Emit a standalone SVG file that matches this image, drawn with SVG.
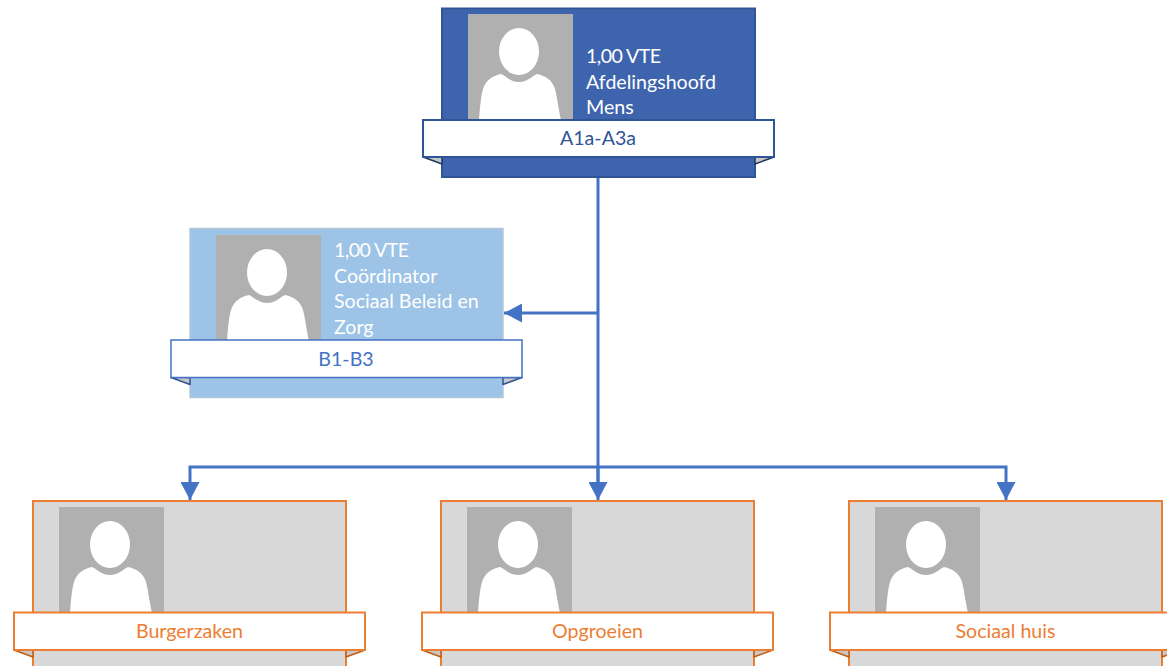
<svg xmlns="http://www.w3.org/2000/svg" xmlns:xlink="http://www.w3.org/1999/xlink" width="1167" height="666" viewBox="0 0 1167 666">
<style>
text{font-family:"Lato","Liberation Sans",sans-serif;font-size:19.6px}
.info{fill:#fff}
.band{text-anchor:middle}
.conn{fill:none;stroke:#4472c4;stroke-width:3}
.navy .card{fill:#3e64ad;stroke:#2f5597;stroke-width:2}
.navy .rib{fill:#fff;stroke:#2f5597;stroke-width:2}
.navy .tail{stroke:#1f3864}
.navy .band{fill:#2f5597}
.sky .card{fill:#9dc3e6;stroke:#b4c7dc;stroke-width:1.5}
.sky .rib{fill:#fff;stroke:#4472c4;stroke-width:1.5}
.sky .tail{stroke:#2f5597}
.sky .band{fill:#4472c4}
.org .card{fill:#d8d8d8;stroke:#ed7d31;stroke-width:2}
.org .rib{fill:#fff;stroke:#ed7d31;stroke-width:2}
.org .tail{stroke:#c55a11}
.org .band{fill:#ed7d31}
.tail{fill:#c8c8c8;stroke-width:1.5;stroke-linejoin:round}
</style>
<defs>
<marker id="arr" markerUnits="userSpaceOnUse" markerWidth="19" markerHeight="19" refX="18" refY="9.5" orient="auto"><path d="M0,0L18,9.5L0,19Z" fill="#4472c4"/></marker>
<g id="photo">
<rect x="0" y="0" width="105" height="106" fill="#b0b0b0"/>
<ellipse cx="51" cy="37.500" rx="20" ry="23.500" fill="#fff"/>
<path d="M11,106C12,92 13,82 15,75C18,66 24,62 33,60C38,62 42,68 51,68C60,68 64,62 69,60C78,62 84,66 87,75C89,82 90,92 93,106Z" fill="#fff"/>
</g>
</defs>
<g id="connectors">
<path class="conn" d="M598,177V485"/>
<path class="conn" d="M598,313H504" marker-end="url(#arr)"/>
<path class="conn" d="M598,467H190V500" marker-end="url(#arr)"/>
<path class="conn" d="M598,467H1006V500" marker-end="url(#arr)"/>
<path class="conn" d="M598,467V500" marker-end="url(#arr)"/>
</g>
<g id="node-afdelingshoofd" class="navy">
<rect class="card" x="442" y="8.500" width="313" height="168.500"/>
<use xlink:href="#photo" href="#photo" x="468" y="14"/>
<text class="info" x="586" y="63" textLength="75">1,00 VTE</text>
<text class="info" x="586" y="88.500">Afdelingshoofd</text>
<text class="info" x="586" y="114">Mens</text>
<path class="tail" d="M423,157L442,164V157Z"/>
<path class="tail" d="M774,157L755,164V157Z"/>
<rect class="rib" x="423" y="120" width="351" height="37"/>
<text class="band" x="598" y="145">A1a-A3a</text>
</g>
<g id="node-coordinator" class="sky">
<rect class="card" x="190" y="228.500" width="313" height="169"/>
<use xlink:href="#photo" href="#photo" x="216" y="235"/>
<text class="info" x="334" y="257" textLength="75">1,00 VTE</text>
<text class="info" x="334" y="283">Coördinator</text>
<text class="info" x="334" y="308">Sociaal Beleid en</text>
<text class="info" x="334" y="334">Zorg</text>
<path class="tail" d="M171,377.500L190,384.500V377.500Z"/>
<path class="tail" d="M522,377.500L503,384.500V377.500Z"/>
<rect class="rib" x="171" y="340" width="351" height="37.500"/>
<text class="band" x="346" y="366">B1-B3</text>
</g>
<g id="node-burgerzaken" class="org">
<rect class="card" x="33" y="501" width="313" height="175"/>
<use xlink:href="#photo" href="#photo" x="59" y="507"/>
<path class="tail" d="M14,650L33,657V650Z"/>
<path class="tail" d="M365,650L346,657V650Z"/>
<rect class="rib" x="14" y="612.500" width="351" height="37.500"/>
<text class="band" x="189.500" y="638">Burgerzaken</text>
</g>
<g id="node-opgroeien" class="org">
<rect class="card" x="441" y="501" width="313" height="175"/>
<use xlink:href="#photo" href="#photo" x="467" y="507"/>
<path class="tail" d="M422,650L441,657V650Z"/>
<path class="tail" d="M773,650L754,657V650Z"/>
<rect class="rib" x="422" y="612.500" width="351" height="37.500"/>
<text class="band" x="597.500" y="638">Opgroeien</text>
</g>
<g id="node-sociaal-huis" class="org">
<rect class="card" x="849" y="501" width="313" height="175"/>
<use xlink:href="#photo" href="#photo" x="875" y="507"/>
<path class="tail" d="M830,650L849,657V650Z"/>
<path class="tail" d="M1181,650L1162,657V650Z"/>
<rect class="rib" x="830" y="612.500" width="351" height="37.500"/>
<text class="band" x="1005.500" y="638">Sociaal huis</text>
</g>
</svg>
